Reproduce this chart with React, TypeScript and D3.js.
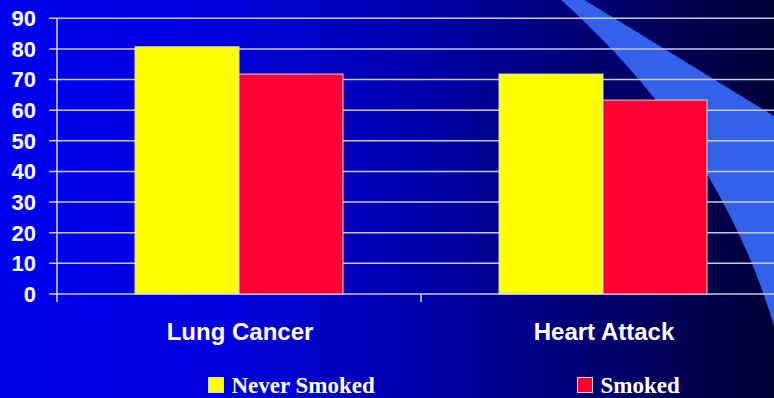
import React from "react";
import * as d3 from "d3";

const categories = ["Lung Cancer", "Heart Attack"];
const seriesNames = ["Never Smoked", "Smoked"];
const neverSmoked = [80.7, 71.8];
const smoked = [71.8, 63.3];
const yTicks = [0, 10, 20, 30, 40, 50, 60, 70, 80, 90];
const seriesColors = ["#ffff00", "#ff0033"];

const W = 774;
const H = 398;

export default function App() {
  const y = d3.scaleLinear().domain([0, 90]).range([294, 18.3]);
  const x = d3.scaleBand<string>().domain(categories).range([57, 785]).paddingInner(0).paddingOuter(0);
  const xi = d3.scaleBand<string>().domain(seriesNames).range([0, x.bandwidth()]).paddingInner(0).paddingOuter(0.75);
  const values = [neverSmoked, smoked];

  const p = d3.path();
  p.moveTo(583, -1);
  p.lineTo(800, 132);
  p.lineTo(800, 360);
  p.lineTo(782, 355);
  p.bezierCurveTo(740, 190, 650, 80, 560, -1);
  p.closePath();
  const swoosh = p.toString();

  return (
    <svg width={W} height={H} style={{ position: "fixed", left: 0, top: 0, display: "block" }}>
      <defs>
        <linearGradient id="bg" x1="0" x2="1" y1="0" y2="0">
          <stop offset="0" stopColor="#0000ee" />
          <stop offset="0.3" stopColor="#0000dc" />
          <stop offset="0.55" stopColor="#0000aa" />
          <stop offset="0.78" stopColor="#000070" />
          <stop offset="1" stopColor="#000036" />
        </linearGradient>
      </defs>
      <rect x={0} y={0} width={W} height={H} fill="url(#bg)" />
      <path d={swoosh} fill="#3262ea" />
      {yTicks.map((t) => (
        <g key={t}>
          <line x1={49} x2={W} y1={y(t)} y2={y(t)} stroke="#c8c8ec" strokeWidth={1.5} />
          <text x={36} y={y(t)} dy="0.36em" textAnchor="end" fill="#ffffff"
            fontFamily="'Liberation Sans', Arial, sans-serif" fontWeight="bold" fontSize={22}>{t}</text>
        </g>
      ))}
      <line x1={57} x2={57} y1={y(90)} y2={302} stroke="#d8d8f0" strokeWidth={1.5} />
      {categories.map((c) => (
        <line key={"t" + c} x1={(x(c) as number) + x.bandwidth()} x2={(x(c) as number) + x.bandwidth()} y1={294} y2={302} stroke="#d8d8f0" strokeWidth={1.5} />
      ))}
      {categories.map((c, ci) => (
        <g key={c}>
          {seriesNames.map((s, si) => (
            <rect key={s}
              x={(x(c) as number) + (xi(s) as number)}
              y={y(values[si][ci])}
              width={xi.bandwidth()}
              height={y(0) - y(values[si][ci])}
              fill={seriesColors[si]}
              stroke="#d8d8d8"
              strokeWidth={1}
            />
          ))}
          <text x={(x(c) as number) + x.bandwidth() / 2 + 1} y={339.5} textAnchor="middle" fill="#ffffff"
            fontFamily="'Liberation Sans', Arial, sans-serif" fontWeight="bold" fontSize={24}>{c}</text>
        </g>
      ))}
      {seriesNames.map((s, si) => {
        const lx = si === 0 ? 208.5 : 577.5;
        return (
          <g key={"lg" + s}>
            <rect x={lx} y={377.5} width={15} height={15} fill={seriesColors[si]} stroke="#d8d8d8" strokeWidth={1} />
            <text x={lx + 23} y={393} fill="#ffffff"
              fontFamily="'Liberation Serif', 'Times New Roman', serif" fontWeight="bold" fontSize={23}>{s}</text>
          </g>
        );
      })}
    </svg>
  );
}
